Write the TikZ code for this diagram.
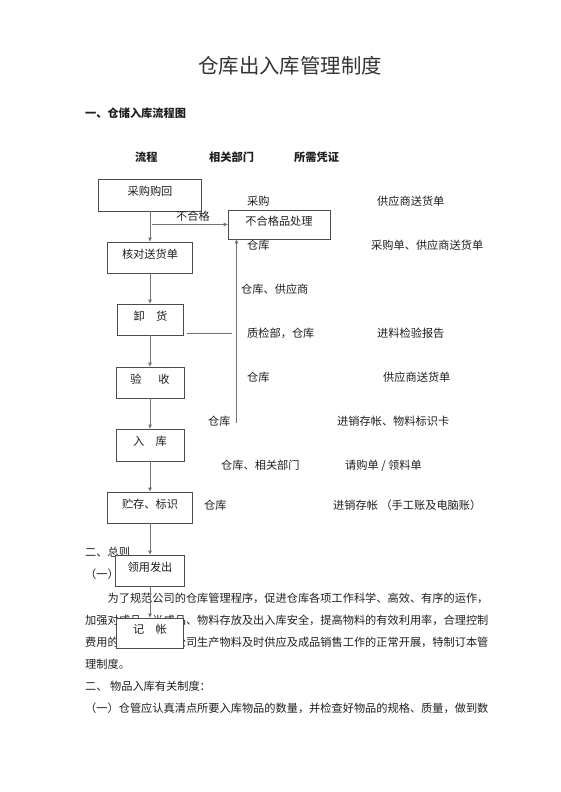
\documentclass[tikz,border=0pt]{standalone}
\usepackage{fontspec}
\setmainfont{Noto Sans CJK SC}
\usetikzlibrary{arrows.meta}

\begin{document}
\begin{tikzpicture}[x=1pt, y=-1pt,
  every node/.style={inner sep=0pt, font=\fontsize{11.2}{13}\selectfont, text=black!88},
  flowbox/.style={draw=black!70, fill=white, line width=0.8pt, text height=9pt, text depth=8pt},
  conn/.style={draw=black!55, line width=0.8pt},
  arr/.style={conn, -{Triangle[length=4pt, width=3.5pt]}},
  head/.style={anchor=west, font=\fontsize{11.2}{13}\selectfont\bfseries},
  info/.style={anchor=west},
  body/.style={anchor=west}]
\useasboundingbox (0,0) rectangle (560,792);

% title and headings
\node[font=\fontsize{20.4}{24}\selectfont, text=black!80] (title) at (290,66) {仓库出入库管理制度};
\node[head] (sec1) at (85,113) {一、仓储入库流程图};
\node[head] (hliu) at (135,157) {流程};
\node[head] (hbumen) at (209,157) {相关部门};
\node[head] (hpingz) at (294,157) {所需凭证};

% body text, partly hidden by the boxes
\node[body] (zongze) at (85,552) {二、总则};
\node[body] (yi) at (85,574) {（一）};
\node[body] (para1) at (107.4,598) {为了规范公司的仓库管理程序，促进仓库各项工作科学、高效、有序的运作，};
\node[body] (para2) at (85,620) {加强对成品、半成品、物料存放及出入库安全，提高物料的有效利用率，合理控制};
\node[body] (para3) at (85,642) {费用的降低，保证公司生产物料及时供应及成品销售工作的正常开展，特制订本管};
\node[body] (para4) at (85,664) {理制度。};
\node[body] (sec2) at (85,686) {二、 物品入库有关制度：};
\node[body] (para5) at (85,708) {（一）仓管应认真清点所要入库物品的数量，并检查好物品的规格、质量，做到数};

% flow boxes
\node[flowbox, minimum width=103pt, minimum height=32pt] (caigou) at (150,195) {采购购回};
\node[flowbox, minimum width=102pt, minimum height=29pt] (buhege) at (279,224.5) {不合格品处理};
\node[flowbox, minimum width=85pt, minimum height=31pt] (hedui) at (150,257.5) {核对送货单};
\node[flowbox, minimum width=66pt, minimum height=31pt] (xiehuo) at (150.5,319.5) {卸　货};
\node[flowbox, minimum width=68pt, minimum height=31pt] (yanshou) at (150,382.5) {验\hspace{1.5em}收};
\node[flowbox, minimum width=68pt, minimum height=32pt] (ruku) at (150,445) {入　库};
\node[flowbox, minimum width=85pt, minimum height=31pt] (zhucun) at (150,507.5) {贮存、标识};
\node[flowbox, minimum width=69pt, minimum height=31pt] (lingyong) at (150,570.5) {领用发出};
\node[flowbox, minimum width=67pt, minimum height=30pt] (jizhang) at (150,633) {记　帐};

% connectors
\draw[arr] (caigou.south) -- (caigou.south |- hedui.north);
\draw[arr] (hedui.south) -- (hedui.south |- xiehuo.north);
\draw[arr] (xiehuo.south -| hedui.south) -- (hedui.south |- yanshou.north);
\draw[arr] (yanshou.south) -- (ruku.north);
\draw[arr] (ruku.south) -- (zhucun.north);
\draw[arr] (zhucun.south) -- (lingyong.north);
\draw[arr] (lingyong.south) -- (jizhang.north);

\coordinate (fork) at (152,224.5);
\draw[arr] (fork) -- (buhege.west);
\node (buhegelbl) at (193,216) {不合格};

\coordinate (xhend) at (232,333);
\coordinate (qcbot) at (236.5,423);
\draw[conn, shorten <=3pt] (xiehuo.east |- xhend) -- (xhend);
\draw[arr] (qcbot) -- (qcbot |- buhege.south);

% departments and documents
\node[info] (bm1) at (247,201.5) {采购};
\node[info] (pz1) at (377,201.5) {供应商送货单};
\node[info] (bm2) at (247,245) {仓库};
\node[info] (pz2) at (371,245) {采购单、供应商送货单};
\node[info] (bm3) at (241,289) {仓库、供应商};
\node[info] (bm4) at (247,333) {质检部，仓库};
\node[info] (pz4) at (377,333) {进料检验报告};
\node[info] (bm5) at (247,377) {仓库};
\node[info] (pz5) at (383,377) {供应商送货单};
\node[info] (bm6) at (208,421) {仓库};
\node[info] (pz6) at (337,421) {进销存帐、物料标识卡};
\node[info] (bm7) at (221,465.5) {仓库、相关部门};
\node[info] (pz7) at (345,465.5) {请购单 / 领料单};
\node[info] (bm8) at (204,505) {仓库};
\node[info] (pz8) at (333,505) {进销存帐 （手工账及电脑账）};

\end{tikzpicture}
\end{document}
